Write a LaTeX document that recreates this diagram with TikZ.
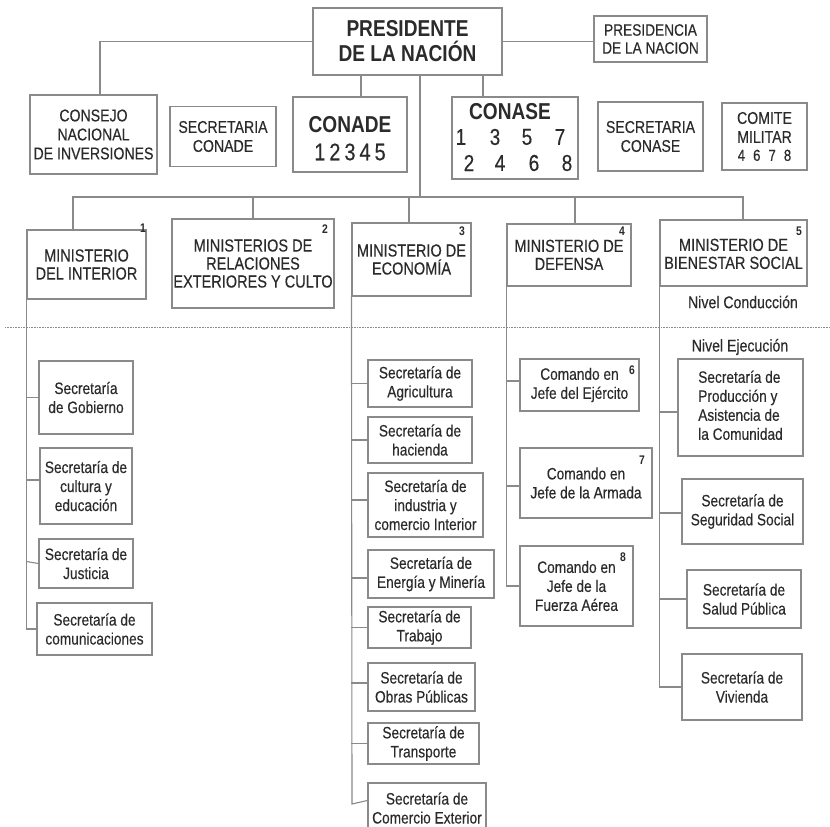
\documentclass[tikz,border=0pt]{standalone}
\usepackage{fontspec}
\setmainfont[FakeStretch=0.83, UprightFeatures={FakeBold=0.25}]{Liberation Sans}
\definecolor{ln}{HTML}{8A8A8A}
\definecolor{tx}{HTML}{2B2B2B}
\begin{document}
\begin{tikzpicture}[x=1pt,y=-1pt,
  box/.style={draw=ln, line width=1.1pt, inner sep=0pt, align=center, text=tx,
     font=\fontsize{17}{19}\selectfont},
  sbox/.style={box, font=\fontsize{16.5}{19}\selectfont},
  mbox/.style={box, font=\fontsize{17.5}{18}\selectfont},
  sz/.style args={#1x#2}{minimum width=#1pt, minimum height=#2pt},
  conn/.style={draw=ln, line width=1.1pt},
  num/.style={text=tx, inner sep=0pt, font=\bfseries\fontsize{12.5}{12}\selectfont},
  lbl/.style={text=tx, inner sep=0pt, font=\fontsize{17}{19}\selectfont},
  dig/.style={text=tx, inner sep=0pt, font=\fontsize{23}{23}\selectfont}]
\clip (0,0) rectangle (830,827);
\fill[white] (0,0) rectangle (830,827);

% top level
\node[box, sz=189x67, font=\bfseries\fontsize{23}{25}\selectfont] (pres) at (407.5,41.5) {PRESIDENTE\\DE LA NACIÓN};
\node[box, sz=113x46, font=\fontsize{16.5}{18}\selectfont] (pcia) at (650.5,39) {PRESIDENCIA\\DE LA NACION};
\node[box, sz=127x79] (consejo) at (93.5,134.5) {CONSEJO\\NACIONAL\\DE INVERSIONES};
\node[box, sz=106x60] (scd) at (223,136.5) {SECRETARIA\\CONADE};
\node[box, sz=114x75] (conade) at (350,134.5) {};
\node[text=tx, inner sep=0pt, font=\bfseries\fontsize{23}{23}\selectfont] (conadet) at (350,125) {CONADE};
\node[text=tx, inner sep=0pt, font=\fontsize{24}{24}\selectfont] (conaded) at (350,152) {1\hspace{4pt}2\hspace{4pt}3\hspace{4pt}4\hspace{4pt}5};
\node[box, sz=126x82] (conase) at (515,138) {};
\node[text=tx, inner sep=0pt, font=\bfseries\fontsize{23}{23}\selectfont] (conaset) at (510,112) {CONASE};
\foreach \d/\x/\y in {1/461/137,3/495/137,5/527/137,7/560/137,2/469/163,4/500/163,6/534/163,8/567/163}
  \node[dig] (d\d) at (\x,\y) {\d};
\node[box, sz=105x69] (scs) at (650.5,136.5) {SECRETARIA\\CONASE};
\node[box, sz=85x67] (comite) at (764.5,136.5) {COMITE\\MILITAR\\[-1pt]\fontsize{16}{16}\selectfont 4\hspace{8pt}6\hspace{8pt}7\hspace{8pt}8};

\draw[conn] (pres.west) -| ([xshift=6.5]consejo.north);
\draw[conn] (pres.east) -- (pres.east -| pcia.west);
\draw[conn] ([xshift=-46.5]pres.south) -- ([xshift=11]conade.north);
\draw[conn] ([xshift=75.5]pres.south) -- ([xshift=-32]conase.north);

% ministries
\node[mbox, sz=119x69] (int) at (86.5,264.5) {MINISTERIO\\DEL INTERIOR};
\node[mbox, sz=162x89] (rel) at (253,263.5) {MINISTERIOS DE\\RELACIONES\\EXTERIORES Y CULTO};
\node[mbox, sz=119x73] (eco) at (411.5,259.5) {MINISTERIO DE\\ECONOMÍA};
\node[mbox, sz=124x62] (def) at (569,255) {\\[-6pt]MINISTERIO DE\\DEFENSA};
\node[mbox, sz=147x66] (bie) at (733.5,253) {\\[-4pt]MINISTERIO DE\\BIENESTAR SOCIAL};
\node[num] (n1) at (143,228) {1};
\node[num] (n2) at (325,229) {2};
\node[num] (n3) at (462,231) {3};
\node[num] (n4) at (622,231) {4};
\node[num] (n5) at (799,231) {5};

\coordinate (bus) at (420,197);
\draw[conn] ([xshift=12.5]pres.south) -- (bus);
\draw[conn] ([xshift=-13.5]int.north) |- (bus) -| ([xshift=9.5]bie.north);
\draw[conn] (rel.north) -- (rel.north |- bus);
\draw[conn] ([xshift=-2.5]eco.north) -- ([xshift=-2.5]eco.north |- bus);
\draw[conn] ([xshift=6]def.north) -- ([xshift=6]def.north |- bus);

% levels
\draw[ln, line width=0.7pt, dash pattern=on 0.8pt off 0.8pt] (5,327) -- (830,327);
\node[lbl] (cond) at (743,302) {Nivel Conducción};
\node[lbl] (ejec) at (740,347) {Nivel Ejecución};

% interior column
\node[sbox, sz=94x73] (gob) at (86,397.5) {Secretaría\\de Gobierno};
\node[sbox, sz=92x76] (cul) at (86,486) {Secretaría de\\cultura y\\educación};
\node[sbox, sz=94x49] (jus) at (86,563.5) {Secretaría de\\Justicia};
\node[sbox, sz=115x52] (com) at (94.5,629) {Secretaría de\\comunicaciones};
\draw[conn] (int.south west) |- (com.west);
\draw[conn] (int.south west |- gob.west) -- (gob.west);
\draw[conn] ([yshift=6]int.south west |- cul.west) -- ([yshift=6]cul.west);
\draw[conn] ([yshift=2]int.south west |- jus.west) -- (jus.west);

% economia column
\node[sbox, sz=104x47] (agr) at (420,383.5) {Secretaría de\\Agricultura};
\node[sbox, sz=104x46] (hac) at (420,440) {Secretaría de\\hacienda};
\node[sbox, sz=115x64] (ind) at (425.5,505) {Secretaría de\\industria y\\comercio Interior};
\node[sbox, sz=126x48] (ene) at (431,574) {Secretaría de\\Energía y Minería};
\node[sbox, sz=103x41] (tra) at (419.5,627.5) {Secretaría de\\Trabajo};
\node[sbox, sz=107x48] (obr) at (421.5,687) {Secretaría de\\Obras Públicas};
\node[sbox, sz=111x41] (trn) at (423.5,743.5) {Secretaría de\\Transporte};
\node[sbox, sz=118x50] (cex) at (427,808) {Secretaría de\\Comercio Exterior};
\coordinate (ecoend) at (352,804);
\draw[conn] (eco.south west) -- (ecoend) -- ([yshift=-18]cex.north west);
\foreach \b/\s in {agr/0,hac/0,ind/5,ene/-4,tra/0,obr/4,trn/0}
  \draw[conn] ([yshift=\s]eco.south west |- \b.west) -- ([yshift=\s]\b.west);

% defensa column
\node[sbox, sz=119x52] (eje) at (579.5,385) {Comando en\\Jefe del Ejército};
\node[sbox, sz=132x70] (arm) at (586,483) {Comando en\\Jefe de la Armada};
\node[sbox, sz=113x80] (fue) at (576.5,586) {Comando en\\Jefe de la\\Fuerza Aérea};
\node[num] (n6) at (632,370) {6};
\node[num] (n7) at (642,460) {7};
\node[num] (n8) at (623,557) {8};
\draw[conn] (def.south west) |- (fue.west);
\draw[conn] ([yshift=4]def.south west |- eje.west) -- ([yshift=4]eje.west);
\draw[conn] ([yshift=-3]def.south west |- arm.west) -- ([yshift=-3]arm.west);

% bienestar column
\node[sbox, sz=125x97] (pro) at (740.5,407.5) {\begin{tabular}{@{}l@{}}Secretaría de\\Producción y\\Asistencia de\\la Comunidad\end{tabular}};
\node[sbox, sz=121x65] (seg) at (742.5,511.5) {Secretaría de\\Seguridad Social};
\node[sbox, sz=114x58] (sal) at (744,599) {Secretaría de\\Salud Pública};
\node[sbox, sz=120x66] (viv) at (742,687) {Secretaría de\\Vivienda};
\draw[conn] (bie.south west) |- (viv.west);
\draw[conn] ([yshift=-4.5]bie.south west |- pro.west) -- ([yshift=-4.5]pro.west);
\draw[conn] ([yshift=-1.5]bie.south west |- seg.west) -- ([yshift=-1.5]seg.west);
\draw[conn] (bie.south west |- sal.west) -- (sal.west);
\end{tikzpicture}
\end{document}
